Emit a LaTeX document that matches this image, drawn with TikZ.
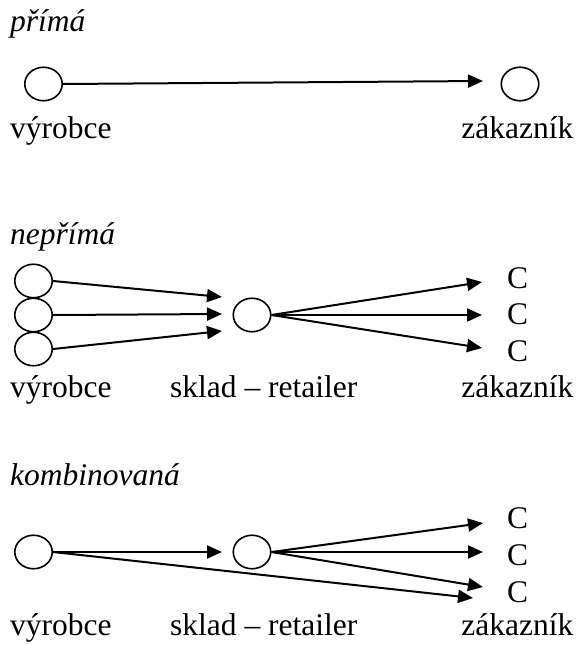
\documentclass[tikz,border=0pt]{standalone}
\usepackage{fontspec}
\setmainfont{Liberation Serif}
\usetikzlibrary{arrows.meta,shapes.geometric}
\begin{document}
\begin{tikzpicture}[x=1pt,y=-1pt,
  font=\fontsize{31.5}{36}\selectfont,
  party/.style={draw,ellipse,line width=1.6pt,minimum width=37.5pt,
    minimum height=33.5pt,inner sep=0pt},
  flow/.style={line width=2pt,-{Triangle[length=15pt,width=13pt]}},
  lbl/.style={inner sep=0pt,anchor=base west},
  lblr/.style={inner sep=0pt,anchor=base east},
  title/.style={lbl,font=\fontsize{31.5}{36}\selectfont\itshape},
  cust/.style={inner sep=0pt,anchor=west}]
\useasboundingbox (0,0) rectangle (577,645);

% --- direct channel ---
\node[title] (h1) at (10,31.7) {přímá};
\node[party] (p1) at (43.5,84) {};
\node[party] (z1) at (520,84) {};
\coordinate (t1) at (483,81);
\draw[flow] (p1.east) -- (t1);
\node[lbl]  (v1) at (10,138) {výrobce};
\node[lblr] (k1) at (573.5,138) {zákazník};

% --- indirect channel ---
\node[title] (h2) at (10,244) {nepřímá};
\node[party] (p2a) at (33.5,281) {};
\node[party] (p2b) at (33.5,315) {};
\node[party] (p2c) at (33.5,349) {};
\node[party] (s2) at (252,315) {};
\coordinate (a2a) at (222,297);
\coordinate (a2b) at (222,314);
\coordinate (a2c) at (222,331);
\draw[flow] (p2a.east) -- (a2a);
\draw[flow] (p2b.east) -- (a2b);
\draw[flow] (p2c.east) -- (a2c);
\coordinate (r2a) at (482,282);
\coordinate (r2b) at (482,315);
\coordinate (r2c) at (482,348);
\draw[flow] (s2.east) -- (r2a);
\draw[flow] (s2.east) -- (r2b);
\draw[flow] (s2.east) -- (r2c);
\node[cust] (c2a) at (507,278) {C};
\node[cust] (c2b) at (507,314) {C};
\node[cust] (c2c) at (507,351) {C};
\node[lbl]  (v2) at (10,397) {výrobce};
\node[lbl]  (w2) at (170,397) {sklad – retailer};
\node[lblr] (k2) at (573.5,397) {zákazník};

% --- combined channel ---
\node[title] (h3) at (10,485) {kombinovaná};
\node[party] (p3) at (33.5,552) {};
\node[party] (s3) at (252,552) {};
\coordinate (m3) at (222,552);
\coordinate (d3) at (473,598);
\draw[flow] (p3.east) -- (m3);
\draw[flow] (p3.east) -- (d3);
\coordinate (r3a) at (483,523);
\coordinate (r3b) at (483,552);
\coordinate (r3c) at (483,587);
\draw[flow] (s3.east) -- (r3a);
\draw[flow] (s3.east) -- (r3b);
\draw[flow] (s3.east) -- (r3c);
\node[cust] (c3a) at (507,518) {C};
\node[cust] (c3b) at (507,555) {C};
\node[cust] (c3c) at (507,592) {C};
\node[lbl]  (v3) at (10,635) {výrobce};
\node[lbl]  (w3) at (170,635) {sklad – retailer};
\node[lblr] (k3) at (573.5,635) {zákazník};
\end{tikzpicture}
\end{document}
